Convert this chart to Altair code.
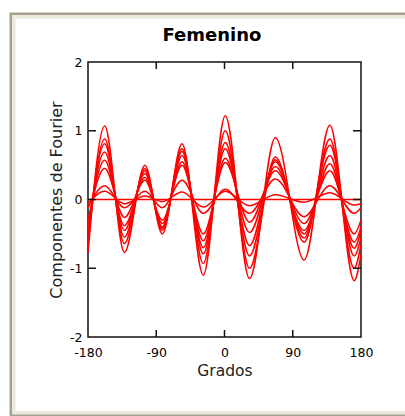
import altair as alt
import pandas as pd

# Angle (degrees) at the turning points shared by every curve
grados = [-180, -158, -132, -105, -82, -56, -28, 1, 33, 67, 105, 139, 171, 180]

# One list per curve: value of the Fourier component at each angle above
curva_0 = [0.00, 0.00, 0.00, 0.00, 0.00, 0.00, 0.00, 0.00, 0.00, 0.00, 0.00, 0.00, 0.00, 0.00]
curva_1 = [-0.06, 0.12, -0.06, 0.05, -0.03, 0.11, -0.11, 0.12, -0.09, 0.07, -0.04, 0.10, -0.08, -0.06]
curva_2 = [-0.12, 0.20, -0.12, 0.12, -0.12, 0.28, -0.20, 0.15, -0.20, 0.30, -0.25, 0.20, -0.20, -0.12]
curva_3 = [-0.30, 0.45, -0.26, 0.28, -0.30, 0.50, -0.50, 0.54, -0.33, 0.42, -0.35, 0.42, -0.50, -0.30]
curva_4 = [-0.40, 0.57, -0.38, 0.32, -0.35, 0.55, -0.60, 0.60, -0.48, 0.48, -0.45, 0.52, -0.62, -0.40]
curva_5 = [-0.45, 0.69, -0.45, 0.38, -0.40, 0.64, -0.70, 0.74, -0.67, 0.55, -0.50, 0.64, -0.71, -0.45]
curva_6 = [-0.55, 0.81, -0.55, 0.42, -0.42, 0.70, -0.79, 0.83, -0.82, 0.58, -0.56, 0.79, -0.82, -0.55]
curva_7 = [-0.65, 0.88, -0.64, 0.45, -0.45, 0.74, -0.93, 1.00, -1.00, 0.62, -0.62, 0.88, -1.00, -0.65]
curva_8 = [-0.78, 1.07, -0.77, 0.50, -0.50, 0.81, -1.10, 1.22, -1.15, 0.90, -0.88, 1.08, -1.18, -0.80]

curvas = [curva_0, curva_1, curva_2, curva_3, curva_4, curva_5, curva_6, curva_7, curva_8]

x_ticks = [-180, -90, 0, 90, 180]
y_ticks = [-2, -1, 0, 1, 2]
x_inner_ticks = [-90, 0, 90]
y_inner_ticks = [-1, 0, 1]

W, H = 273, 275
FONT = "DejaVu Sans"

rows = []
for i, valores in enumerate(curvas):
    for g, v in zip(grados, valores):
        rows.append({"grados": g, "valor": v, "curva": i})
df = pd.DataFrame(rows)

x_scale = alt.Scale(domain=[-180, 180], nice=False, zero=False)
y_scale = alt.Scale(domain=[-2, 2], nice=False, zero=False)

# plain hyphen for negative numbers
plain_label = "'' + datum.value"

x_axis = alt.Axis(
    values=x_ticks, ticks=False, domain=False, grid=False, labelExpr=plain_label,
    labelFlush=False, labelFont=FONT, labelFontSize=12.5, labelColor="black",
    labelPadding=9, titleFont=FONT, titleFontSize=15.5,
    titleFontWeight="normal", titleColor="#222", titlePadding=5,
)
y_axis = alt.Axis(
    values=y_ticks, ticks=False, domain=False, grid=False, labelExpr=plain_label,
    labelFlush=False, labelFont=FONT, labelFontSize=12.5, labelColor="black",
    labelPadding=6, titleFont=FONT, titleFontSize=16,
    titleFontWeight="normal", titleColor="#222", titlePadding=5,
)

def xenc(field):
    return alt.X(field, scale=x_scale, axis=x_axis, title="Grados")

def yenc(field):
    return alt.Y(field, scale=y_scale, axis=y_axis, title="Componentes de Fourier")

one = pd.DataFrame({"k": [0]})

# Window-style border around the figure (outlines only, no fill)
frame_outer = alt.Chart(one).mark_rect(
    fill=None, stroke="#a3a091", strokeWidth=2.5
).encode(
    x=alt.value(-77.2), x2=alt.value(360), y=alt.value(-48.2), y2=alt.value(353)
)
frame_inner = alt.Chart(one).mark_rect(
    fill=None, stroke="#ece9d8", strokeWidth=3.5
).encode(
    x=alt.value(-74.2), x2=alt.value(360), y=alt.value(-45.2), y2=alt.value(350.8)
)

heading = alt.Chart(one).mark_text(
    text="Femenino", font=FONT, fontSize=18, fontWeight="bold", color="black",
    align="center", baseline="alphabetic",
).encode(x=alt.value(124), y=alt.value(-21))

lines = alt.Chart(df).mark_line(
    color="#ff0000", strokeWidth=1.5, interpolate="monotone", clip=True
).encode(
    x=xenc("grados:Q"),
    y=yenc("valor:Q"),
    detail="curva:N",
)

xt = pd.DataFrame({"t": x_inner_ticks})
yt = pd.DataFrame({"t": y_inner_ticks})
tick_style = dict(color="#111", strokeWidth=1.5)

x_ticks_bottom = alt.Chart(xt).mark_rule(**tick_style).encode(
    x=xenc("t:Q"), y=alt.value(H), y2=alt.value(H - 7)
)
x_ticks_top = alt.Chart(xt).mark_rule(**tick_style).encode(
    x=xenc("t:Q"), y=alt.value(0), y2=alt.value(7)
)
y_ticks_left = alt.Chart(yt).mark_rule(**tick_style).encode(
    y=yenc("t:Q"), x=alt.value(0), x2=alt.value(8)
)
y_ticks_right = alt.Chart(yt).mark_rule(**tick_style).encode(
    y=yenc("t:Q"), x=alt.value(W), x2=alt.value(W - 8)
)

chart = alt.layer(
    frame_outer, frame_inner, heading,
    lines, x_ticks_bottom, x_ticks_top, y_ticks_left, y_ticks_right,
).properties(
    width=W,
    height=H,
    padding={"left": 88, "top": 62, "right": 44, "bottom": 79},
    autosize=alt.AutoSizeParams(type="none"),
    background="white",
).configure_view(
    stroke="#111", strokeWidth=1.5, fill="white"
)

chart.save("out.html", embed_options={"renderer": "svg", "actions": False})
